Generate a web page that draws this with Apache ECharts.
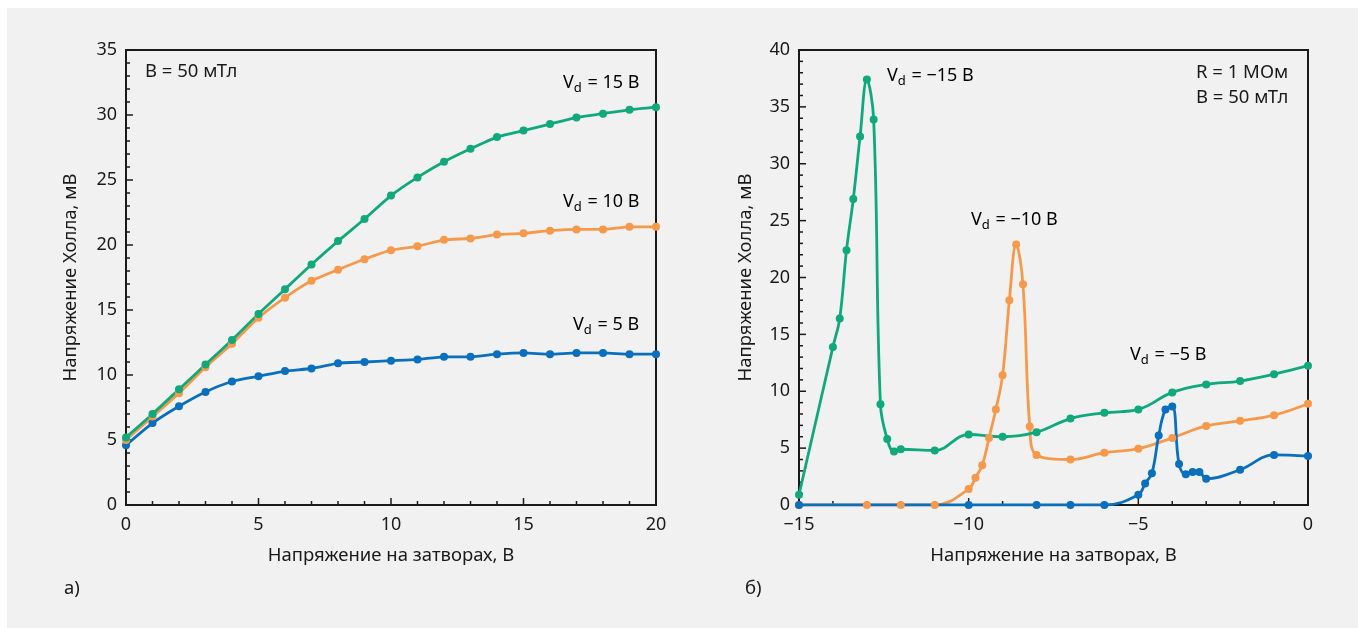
<!DOCTYPE html>
<html>
<head>
<meta charset="utf-8">
<script src="https://cdn.jsdelivr.net/npm/echarts@6/dist/echarts.min.js"></script>
<style>
  html, body { margin: 0; padding: 0; background: #ffffff; }
  #panel { position: absolute; left: 7px; top: 8px; width: 1351px; height: 620px; background: #f1f1f1; }
  #chartA { position: absolute; left: 0; top: 0; width: 673px; height: 620px; }
  #chartB { position: absolute; left: 673px; top: 0; width: 678px; height: 620px; }
</style>
</head>
<body>
<div id="panel">
  <div id="chartA"></div>
  <div id="chartB"></div>
</div>
<script>
// left panel (а): gate voltage 0..20 V
const gateA = [0, 1, 2, 3, 4, 5, 6, 7, 8, 9, 10, 11, 12, 13, 14, 15, 16, 17, 18, 19, 20];
const hallVd15 = [5.2, 7.0, 8.9, 10.8, 12.7, 14.7, 16.6, 18.5, 20.3, 22.0, 23.8, 25.2, 26.4, 27.4, 28.3, 28.8, 29.3, 29.8, 30.1, 30.4, 30.6];
const hallVd10 = [5.0, 6.8, 8.6, 10.6, 12.4, 14.4, 15.95, 17.25, 18.1, 18.9, 19.6, 19.9, 20.4, 20.5, 20.8, 20.9, 21.1, 21.2, 21.2, 21.4, 21.4];
const hallVd5 = [4.6, 6.3, 7.6, 8.7, 9.5, 9.9, 10.3, 10.5, 10.9, 11.0, 11.1, 11.2, 11.4, 11.4, 11.6, 11.7, 11.6, 11.7, 11.7, 11.6, 11.6];

// right panel (б): negative drain voltages
const gateM15 = [-15, -14, -13.8, -13.6, -13.4, -13.2, -13.0, -12.8, -12.6, -12.4, -12.2, -12, -11, -10, -9, -8, -7, -6, -5, -4, -3, -2, -1, 0];
const hallM15 = [0.9, 13.9, 16.4, 22.4, 26.9, 32.4, 37.4, 33.9, 8.85, 5.8, 4.7, 4.9, 4.8, 6.2, 6.0, 6.4, 7.6, 8.1, 8.4, 9.9, 10.6, 10.9, 11.5, 12.25];
const gateM10 = [-15, -13, -12, -11, -10, -9.8, -9.6, -9.4, -9.2, -9.0, -8.8, -8.6, -8.4, -8.2, -8, -7, -6, -5, -4, -3, -2, -1, 0];
const hallM10 = [0, 0, 0, 0, 1.4, 2.4, 3.5, 5.9, 8.4, 11.4, 18.0, 22.9, 19.4, 6.9, 4.4, 4.0, 4.6, 4.95, 5.9, 6.95, 7.4, 7.9, 8.9];
const gateM5 = [-15, -10, -8, -7, -6, -5, -4.8, -4.6, -4.4, -4.2, -4.0, -3.8, -3.6, -3.4, -3.2, -3.0, -2, -1, 0];
const hallM5 = [0, 0, 0, 0, 0, 0.9, 1.9, 2.8, 6.1, 8.4, 8.65, 3.6, 2.7, 2.9, 2.9, 2.3, 3.1, 4.4, 4.3];

const BLUE = '#0a6fbd', ORANGE = '#f7994b', GREEN = '#0fa97b';
const INK = '#1a1a1a';
const FONT = 'Noto Sans';
const X_NAME = 'Напряжение на затворах, В';
const Y_NAME = 'Напряжение Холла, мВ';

const minus = v => String(v).replace('-', '\u2212');
const pairs = (xs, ys) => xs.map((x, i) => [x, ys[i]]);

function valueAxis(extra, labelMargin) {
  return Object.assign({
    type: 'value',
    interval: 5,
    axisLine: { show: true, onZero: false, lineStyle: { color: INK, width: 2 } },
    axisTick: { show: false },
    minorTick: { show: false },
    splitLine: { show: false },
    axisLabel: { color: INK, fontFamily: FONT, fontSize: 18, margin: labelMargin, formatter: minus },
    nameLocation: 'middle',
    nameTextStyle: { color: INK, fontFamily: FONT, fontSize: 18.5 }
  }, extra);
}

function line(name, xs, ys, color, smooth) {
  return {
    name: name, type: 'line', data: pairs(xs, ys),
    smooth: smooth,
    symbol: 'circle', symbolSize: 8,
    lineStyle: { color: color, width: 2.8 },
    itemStyle: { color: color },
    z: 3
  };
}

const txt = { fontFamily: FONT, fontSize: 18.5, fill: INK };
function plainLabel(x, y, s) {
  return { type: 'text', left: x, top: y, style: Object.assign({ text: s }, txt) };
}
function vdLabel(x, y, value) {
  return {
    type: 'text', left: x, top: y,
    style: {
      text: '{v|V}{d|d}{v| = ' + value + ' В}',
      rich: {
        v: { fontFamily: FONT, fontSize: 18, color: INK },
        d: { fontFamily: FONT, fontSize: 13, color: INK, verticalAlign: 'bottom', padding: [10, 1, 0, 0] }
      }
    }
  };
}

// inward ticks every 1 unit, longer every 5, placed through the chart's own scales
function tickMarks(chart, xMin, xMax, yMax) {
  const els = [];
  const mark = (x1, y1, x2, y2) => els.push({
    type: 'line', silent: true, z: 1,
    shape: { x1: x1, y1: y1, x2: x2, y2: y2 },
    style: { stroke: INK, lineWidth: 1.5 }
  });
  for (let v = xMin; v <= xMax; v++) {
    const p = chart.convertToPixel({ gridIndex: 0 }, [v, 0]);
    const len = v % 5 === 0 ? 7 : 4;
    mark(p[0], p[1], p[0], p[1] - len);
  }
  for (let v = 0; v <= yMax; v++) {
    const p = chart.convertToPixel({ gridIndex: 0 }, [xMin, v]);
    const len = v % 5 === 0 ? 7 : 4;
    mark(p[0], p[1], p[0] + len, p[1]);
  }
  return els;
}

function panelOption(xMin, xMax, yMax, gridWidth, yNameGap, series) {
  return {
    backgroundColor: 'transparent',
    animation: false,
    grid: { left: 119, top: 42, width: gridWidth, height: 455, show: true, borderColor: INK, borderWidth: 2 },
    xAxis: valueAxis({ min: xMin, max: xMax, name: X_NAME, nameGap: 41 }, 11),
    yAxis: valueAxis({ min: 0, max: yMax, name: Y_NAME, nameGap: yNameGap }, 9),
    series: series
  };
}

const chartA = echarts.init(document.getElementById('chartA'));
chartA.setOption(panelOption(0, 20, 35, 530, 46, [
  line('Vd = 5 В', gateA, hallVd5, BLUE, 0.2),
  line('Vd = 10 В', gateA, hallVd10, ORANGE, 0.2),
  line('Vd = 15 В', gateA, hallVd15, GREEN, 0.2)
]));
chartA.setOption({
  graphic: [
    plainLabel(138, 54, 'B = 50 мТл'),
    vdLabel(556, 66, '15'),
    vdLabel(556, 185, '10'),
    vdLabel(566, 308, '5'),
    plainLabel(57, 571, 'а)')
  ].concat(tickMarks(chartA, 0, 20, 35))
});

const chartB = echarts.init(document.getElementById('chartB'));
chartB.setOption(panelOption(-15, 0, 40, 509, 44, [
  line('Vd = −10 В', gateM10, hallM10, ORANGE, 0.4),
  line('Vd = −5 В', gateM5, hallM5, BLUE, 0.4),
  line('Vd = −15 В', gateM15, hallM15, GREEN, 0.4)
]));
chartB.setOption({
  graphic: [
    vdLabel(207, 59, '\u221215'),
    vdLabel(291, 203, '\u221210'),
    vdLabel(450, 338, '\u22125'),
    plainLabel(516, 55, 'R = 1 МОм'),
    plainLabel(516, 80, 'B = 50 мТл'),
    plainLabel(65, 571, 'б)')
  ].concat(tickMarks(chartB, -15, 0, 40))
});
</script>
</body>
</html>
